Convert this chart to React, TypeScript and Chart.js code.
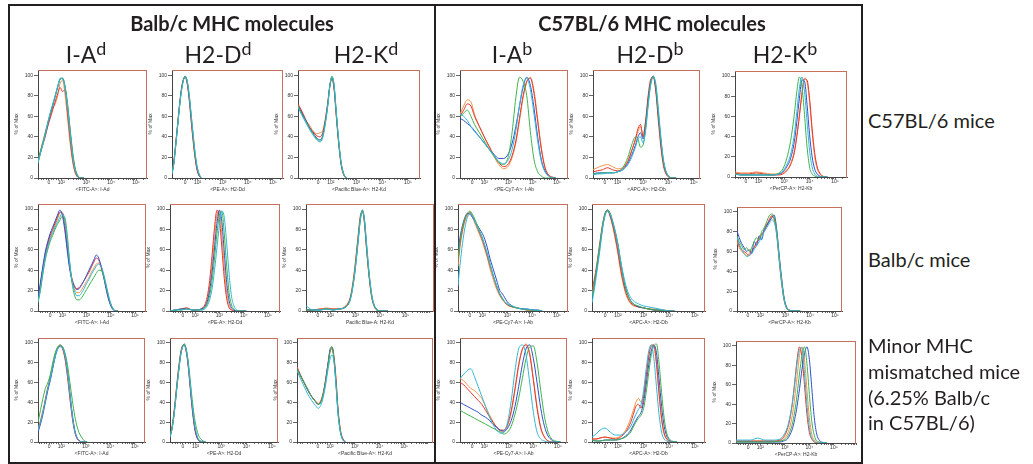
import React, { useEffect, useRef } from "react";
import { Chart, registerables } from "chart.js";
Chart.register(...registerables);

// ---------- axis ticks ----------
const X_TICK_VALUES = [1.5, 2, 3, 4, 5];
const X_TICK_LABELS = ["0", "10²", "10³", "10⁴", "10⁵"];
const X_MINOR_TICKS = [0.7, 0.8, 0.9, 1.1, 1.2, 1.3, 1.4, 1.6, 1.7, 1.8, 1.9, 2.3, 2.48, 2.6, 2.7, 2.78, 2.85, 2.9, 2.95, 3.3, 3.48, 3.6, 3.7, 3.78, 3.85, 3.9, 3.95, 4.3, 4.48, 4.6, 4.7, 4.78, 4.85, 4.9, 4.95, 5.3, 5.48, 5.6, 5.7, 5.78, 5.85, 5.9, 5.95];
const Y_TICKS = [0, 20, 40, 60, 80, 100];
const Y_TITLE = "% of Max";

// ---------- text ----------
const GROUP_TITLES = ["Balb/c MHC molecules", "C57BL/6 MHC molecules"];
const MOLECULES = [["I-A", "d"], ["H2-D", "d"], ["H2-K", "d"], ["I-A", "b"], ["H2-D", "b"], ["H2-K", "b"]];
const ROW_LABELS = [["C57BL/6 mice"], ["Balb/c mice"], ["Minor MHC", "mismatched mice", "(6.25% Balb/c", "in C57BL/6)"]];
const AXIS_LABELS_ROW1 = ["<FITC-A>: I-Ad", "<PE-A>: H2-Dd", "<Pacific Blue-A>: H2-Kd", "<PE-Cy7-A>: I-Ab", "<APC-A>: H2-Db", "<PerCP-A>: H2-Kb"];
const AXIS_LABELS_ROW2 = ["<FITC-A>: I-Ad", "<PE-A>: H2-Dd", "Pacific Blue-A: H2-Kd", "<PE-Cy7-A>: I-Ab", "<APC-A>: H2-Db", "<PerCP-A>: H2-Kb"];
const AXIS_LABELS_ROW3 = ["<FITC-A>: I-Ad", "<PE-A>: H2-Dd", "<Pacific Blue-A>: H2-Kd", "<PE-Cy7-A>: I-Ab", "<APC-A>: H2-Db", "<PerCP-A>: H2-Kb"];

// ---------- data: row 1 (C57BL/6 mice) ----------
const R1C1_X = [1.06, 1.15, 1.25, 1.35, 1.45, 1.55, 1.65, 1.75, 1.85, 1.95, 2.05, 2.15, 2.25, 2.35, 2.45, 2.55, 2.65, 2.75, 2.9];
const R1C1_BLUE = [16, 24, 33, 42, 52, 62, 70, 79, 88, 96, 97, 88, 70, 46, 24, 9, 2, 0, 0];
const R1C1_RED = [15, 24, 32, 40, 50, 58, 66, 74, 82, 88, 84, 86, 62, 38, 18, 6, 1, 0, 0];
const R1C1_ORANGE = [16, 26, 35, 44, 52, 60, 68, 72, 80, 92, 95, 80, 58, 34, 16, 5, 1, 0, 0];
const R1C1_GREEN = [16, 25, 34, 44, 54, 63, 71, 80, 89, 96, 97, 89, 72, 48, 26, 10, 3, 0, 0];
const R1C1_CYAN = [14, 23, 32, 42, 53, 63, 72, 80, 89, 97, 96, 87, 68, 44, 22, 8, 2, 0, 0];

const R1C2_X = [0.98, 1.05, 1.12, 1.2, 1.28, 1.36, 1.44, 1.5, 1.58, 1.66, 1.74, 1.82, 1.9, 1.98, 2.06, 2.14];
const R1C2_BLUE = [4, 14, 30, 50, 70, 86, 96, 99, 94, 80, 60, 40, 22, 9, 3, 0];
const R1C2_RED = [5, 15, 31, 51, 71, 87, 96, 98, 93, 78, 57, 37, 20, 8, 2, 0];
const R1C2_ORANGE = [5, 15, 32, 52, 72, 88, 97, 98, 92, 77, 56, 36, 19, 7, 2, 0];
const R1C2_GREEN = [4, 14, 30, 50, 70, 86, 96, 99, 95, 82, 62, 42, 24, 11, 4, 0];
const R1C2_CYAN = [4, 13, 29, 49, 69, 85, 95, 98, 95, 82, 63, 43, 25, 11, 4, 0];

const R1C3_X = [0.72, 0.85, 1.0, 1.15, 1.3, 1.45, 1.58, 1.68, 1.78, 1.88, 1.96, 2.04, 2.12, 2.2, 2.3, 2.4, 2.5, 2.6];
const R1C3_BLUE = [70, 64, 57, 50, 44, 39, 37, 41, 54, 72, 90, 98, 90, 66, 36, 14, 4, 0];
const R1C3_RED = [72, 66, 58, 50, 45, 41, 40, 44, 56, 73, 89, 97, 88, 64, 35, 13, 3, 0];
const R1C3_ORANGE = [71, 65, 57, 52, 46, 43, 44, 46, 57, 74, 90, 96, 87, 63, 34, 13, 3, 0];
const R1C3_GREEN = [70, 63, 56, 49, 43, 38, 36, 40, 53, 71, 90, 99, 91, 67, 37, 15, 4, 0];
const R1C3_CYAN = [69, 62, 55, 48, 42, 37, 35, 39, 52, 70, 89, 98, 92, 68, 38, 15, 4, 0];

const R1C4_X = [1.0, 1.15, 1.3, 1.45, 1.6, 1.8, 2.0, 2.2, 2.4, 2.6, 2.8, 3.0, 3.15, 3.3, 3.45, 3.6, 3.75, 3.9, 4.05, 4.2, 4.35, 4.5, 4.65, 4.8, 4.95];
const R1C4_BLUE = [58, 56, 53, 50, 46, 40, 34, 28, 23, 19, 19, 24, 34, 50, 70, 88, 98, 90, 68, 40, 18, 7, 2, 0, 0];
const R1C4_RED = [60, 66, 72, 70, 60, 50, 40, 31, 22, 15, 11, 14, 22, 36, 58, 80, 94, 97, 82, 55, 28, 10, 3, 1, 0];
const R1C4_ORANGE = [62, 70, 76, 74, 62, 50, 40, 30, 21, 13, 9, 12, 20, 34, 55, 78, 93, 98, 85, 58, 30, 11, 3, 0, 0];
const R1C4_GREEN = [60, 63, 66, 60, 52, 44, 36, 28, 21, 15, 13, 22, 45, 78, 98, 94, 80, 45, 18, 6, 2, 0, 0, 0, 0];
const R1C4_CYAN = [62, 60, 56, 50, 45, 40, 34, 28, 22, 16, 14, 18, 28, 46, 70, 90, 97, 86, 62, 36, 16, 6, 2, 0, 0];

const R1C5_X = [1.03, 1.2, 1.4, 1.6, 1.8, 2.0, 2.2, 2.4, 2.55, 2.7, 2.8, 2.9, 3.0, 3.1, 3.2, 3.3, 3.4, 3.5, 3.6, 3.7, 3.8, 3.9, 4.0, 4.1, 4.3];
const R1C5_BLUE = [4, 5, 5, 5, 5, 6, 8, 14, 22, 32, 40, 44, 38, 52, 75, 93, 99, 88, 62, 36, 16, 6, 2, 0, 0];
const R1C5_RED = [6, 7, 8, 10, 8, 7, 9, 16, 26, 38, 48, 52, 40, 55, 80, 96, 98, 84, 56, 30, 12, 4, 1, 0, 0];
const R1C5_ORANGE = [8, 10, 12, 13, 11, 9, 10, 17, 27, 37, 45, 50, 42, 56, 78, 94, 99, 86, 60, 33, 14, 5, 1, 0, 0];
const R1C5_GREEN = [4, 4, 5, 5, 5, 6, 10, 20, 32, 40, 38, 30, 32, 48, 72, 92, 99, 90, 64, 38, 17, 6, 2, 0, 0];
const R1C5_CYAN = [3, 4, 4, 5, 5, 6, 8, 13, 20, 30, 38, 40, 34, 46, 70, 90, 98, 92, 68, 40, 18, 7, 2, 0, 0];

const R1C6_X = [1.07, 1.3, 1.6, 1.9, 2.2, 2.5, 2.8, 2.95, 3.1, 3.25, 3.4, 3.5, 3.6, 3.7, 3.8, 3.9, 4.0, 4.1, 4.2, 4.3, 4.4, 4.5, 4.7];
const R1C6_BLUE = [3, 2, 2, 2, 2, 2, 3, 5, 10, 18, 35, 55, 78, 96, 95, 72, 42, 20, 8, 3, 1, 0, 0];
const R1C6_RED = [4, 3, 3, 4, 3, 2, 2, 3, 6, 12, 24, 40, 60, 82, 97, 96, 78, 48, 24, 10, 4, 1, 0];
const R1C6_ORANGE = [5, 4, 4, 5, 4, 3, 3, 4, 7, 13, 26, 42, 62, 84, 98, 94, 74, 44, 20, 8, 3, 1, 0];
const R1C6_GREEN = [3, 2, 2, 2, 2, 2, 4, 8, 18, 35, 62, 85, 99, 90, 62, 30, 10, 3, 1, 0, 0, 0, 0];
const R1C6_CYAN = [3, 2, 2, 2, 2, 2, 3, 6, 12, 22, 42, 65, 88, 99, 85, 55, 26, 10, 3, 1, 0, 0, 0];

// ---------- data: row 2 (Balb/c mice) ----------
const R2C1_X = [1.0, 1.1, 1.2, 1.3, 1.4, 1.5, 1.6, 1.7, 1.8, 1.9, 2.0, 2.1, 2.2, 2.3, 2.4, 2.5, 2.6, 2.7, 2.8, 2.9, 3.0, 3.1, 3.2, 3.3, 3.4, 3.5, 3.6, 3.7, 3.8, 3.9, 4.0, 4.1, 4.2, 4.3];
const R2C1_BLUE = [12, 28, 44, 58, 68, 76, 82, 88, 94, 99, 94, 80, 60, 42, 30, 24, 21, 22, 26, 30, 35, 40, 45, 50, 55, 52, 44, 34, 22, 12, 5, 1, 0, 0];
const R2C1_RED = [11, 26, 42, 56, 66, 74, 80, 86, 92, 97, 96, 84, 64, 44, 32, 25, 22, 23, 26, 30, 34, 38, 43, 48, 52, 50, 44, 35, 24, 13, 6, 2, 0, 0];
const R2C1_ORANGE = [10, 24, 40, 54, 64, 72, 78, 84, 90, 96, 97, 88, 68, 46, 30, 22, 18, 18, 21, 25, 29, 33, 38, 42, 46, 47, 42, 34, 24, 14, 6, 2, 0, 0];
const R2C1_GREEN = [8, 20, 36, 50, 60, 68, 74, 80, 85, 89, 93, 92, 76, 50, 28, 16, 11, 11, 13, 17, 21, 25, 29, 33, 37, 40, 40, 34, 25, 15, 7, 2, 0, 0];
const R2C1_CYAN = [9, 22, 38, 52, 62, 70, 76, 82, 87, 92, 96, 90, 72, 48, 30, 20, 15, 15, 18, 22, 27, 31, 36, 40, 44, 46, 44, 37, 27, 16, 7, 2, 0, 0];

const R2C2_X = [0.97, 1.2, 1.45, 1.65, 1.9, 2.1, 2.25, 2.4, 2.5, 2.6, 2.7, 2.8, 2.9, 3.0, 3.1, 3.2, 3.3, 3.4, 3.5, 3.6, 3.7, 3.8, 3.9, 4.1];
const R2C2_BLUE = [0, 1, 2, 2, 1, 1, 2, 4, 9, 20, 38, 62, 86, 99, 88, 58, 28, 10, 3, 1, 0, 0, 0, 0];
const R2C2_RED = [0, 1, 2, 3, 1, 1, 2, 6, 14, 30, 55, 82, 99, 90, 62, 32, 12, 3, 1, 0, 0, 0, 0, 0];
const R2C2_ORANGE = [0, 1, 2, 3, 1, 1, 2, 5, 11, 24, 45, 72, 94, 98, 75, 44, 18, 6, 1, 0, 0, 0, 0, 0];
const R2C2_GREEN = [0, 1, 1, 2, 1, 1, 1, 3, 7, 15, 30, 52, 76, 94, 98, 76, 44, 18, 6, 2, 0, 0, 0, 0];
const R2C2_CYAN = [0, 1, 1, 2, 1, 1, 1, 2, 5, 11, 22, 40, 62, 84, 98, 92, 66, 36, 14, 5, 1, 0, 0, 0];

const R2C3_X = [1.03, 1.3, 1.6, 1.85, 2.1, 2.35, 2.55, 2.7, 2.8, 2.9, 3.0, 3.1, 3.2, 3.28, 3.36, 3.45, 3.55, 3.65, 3.75, 3.85, 4.0, 4.3];
const R2C3_BLUE = [1, 1, 1, 2, 1, 2, 3, 6, 12, 24, 42, 66, 90, 99, 90, 64, 36, 16, 6, 2, 0, 0];
const R2C3_RED = [1, 1, 2, 2, 2, 2, 3, 7, 13, 26, 46, 70, 92, 98, 88, 60, 34, 14, 5, 1, 0, 0];
const R2C3_ORANGE = [1, 1, 2, 3, 2, 2, 4, 8, 14, 28, 48, 72, 94, 97, 86, 60, 33, 14, 5, 1, 0, 0];
const R2C3_GREEN = [1, 1, 1, 2, 1, 2, 3, 6, 12, 25, 44, 68, 91, 99, 89, 62, 35, 15, 5, 1, 0, 0];
const R2C3_CYAN = [5, 1, 1, 2, 1, 2, 3, 6, 11, 23, 42, 65, 89, 98, 91, 66, 38, 17, 6, 2, 0, 0];

const R2C4_X = [1.02, 1.1, 1.2, 1.3, 1.4, 1.5, 1.6, 1.7, 1.8, 1.9, 2.0, 2.1, 2.2, 2.3, 2.4, 2.5, 2.6, 2.7, 2.8, 2.9, 3.0, 3.2, 3.4, 3.6, 3.8, 4.0, 4.2, 4.4];
const R2C4_BLUE = [58, 72, 84, 92, 96, 95, 92, 88, 84, 80, 76, 70, 62, 52, 44, 36, 28, 20, 17, 13, 9, 5, 3, 2, 2, 1, 1, 0];
const R2C4_RED = [48, 66, 80, 90, 95, 97, 93, 88, 82, 76, 70, 62, 54, 45, 37, 29, 22, 16, 12, 9, 6, 4, 3, 2, 1, 1, 0, 0];
const R2C4_ORANGE = [44, 62, 78, 88, 94, 96, 92, 86, 80, 74, 68, 60, 52, 42, 34, 26, 20, 15, 11, 8, 6, 4, 3, 2, 1, 1, 0, 0];
const R2C4_GREEN = [50, 68, 82, 91, 96, 98, 95, 90, 84, 78, 72, 64, 56, 47, 38, 30, 23, 17, 13, 9, 7, 4, 3, 2, 1, 1, 0, 0];
const R2C4_CYAN = [25, 45, 66, 82, 92, 96, 93, 88, 82, 77, 71, 64, 56, 47, 38, 30, 23, 17, 12, 9, 7, 5, 3, 2, 2, 1, 1, 0];

const R2C5_X = [0.99, 1.1, 1.2, 1.3, 1.4, 1.5, 1.6, 1.7, 1.8, 1.9, 2.0, 2.1, 2.2, 2.3, 2.4, 2.5, 2.6, 2.8, 3.0, 3.2, 3.4, 3.6, 3.8, 4.0, 4.2];
const R2C5_BLUE = [12, 28, 45, 64, 82, 95, 99, 94, 86, 76, 64, 48, 34, 22, 15, 10, 7, 4, 3, 2, 1, 1, 0, 0, 0];
const R2C5_RED = [20, 34, 50, 68, 85, 96, 99, 93, 84, 72, 58, 42, 29, 19, 12, 8, 6, 4, 3, 2, 1, 0, 0, 0, 0];
const R2C5_ORANGE = [16, 30, 46, 64, 82, 94, 98, 92, 82, 70, 56, 40, 27, 17, 11, 7, 5, 4, 3, 2, 2, 1, 1, 0, 0];
const R2C5_GREEN = [14, 30, 48, 66, 84, 96, 99, 96, 88, 78, 66, 50, 35, 23, 15, 10, 7, 5, 3, 2, 1, 1, 0, 0, 0];
const R2C5_CYAN = [8, 24, 42, 60, 80, 94, 98, 95, 87, 77, 65, 50, 37, 26, 18, 13, 10, 7, 5, 4, 3, 2, 1, 0, 0];

const R2C6_X = [1.06, 1.15, 1.25, 1.35, 1.45, 1.55, 1.65, 1.75, 1.85, 1.95, 2.05, 2.15, 2.25, 2.35, 2.45, 2.55, 2.65, 2.75, 2.85, 2.95, 3.05, 3.15, 3.3, 3.6];
const R2C6_BLUE = [81, 74, 68, 64, 60, 62, 58, 70, 66, 76, 72, 82, 86, 90, 94, 97, 84, 58, 34, 14, 4, 1, 0, 0];
const R2C6_RED = [72, 66, 62, 60, 58, 56, 60, 64, 70, 72, 78, 80, 86, 92, 96, 94, 80, 54, 30, 12, 3, 1, 0, 0];
const R2C6_ORANGE = [70, 64, 60, 58, 56, 58, 62, 64, 68, 74, 76, 82, 88, 90, 96, 92, 78, 52, 28, 11, 3, 0, 0, 0];
const R2C6_GREEN = [76, 70, 66, 62, 64, 60, 64, 70, 74, 72, 80, 84, 90, 96, 98, 95, 82, 56, 32, 13, 4, 1, 0, 0];
const R2C6_CYAN = [74, 68, 62, 58, 55, 56, 58, 62, 66, 70, 74, 80, 84, 88, 92, 90, 78, 54, 30, 12, 3, 1, 0, 0];

// ---------- data: row 3 (minor MHC mismatched mice) ----------
const R3C1_X = [1.05, 1.15, 1.25, 1.35, 1.45, 1.55, 1.65, 1.75, 1.85, 1.95, 2.05, 2.15, 2.25, 2.35, 2.45, 2.55, 2.65, 2.75, 2.85, 2.95, 3.05];
const R3C1_BLUE = [10, 18, 28, 40, 52, 62, 74, 86, 94, 97, 96, 88, 72, 50, 28, 12, 4, 1, 0, 0, 0];
const R3C1_RED = [10, 20, 30, 42, 54, 64, 76, 87, 95, 97, 94, 84, 66, 44, 24, 10, 3, 1, 0, 0, 0];
const R3C1_ORANGE = [12, 22, 32, 44, 56, 66, 78, 88, 95, 98, 95, 85, 68, 46, 25, 10, 3, 1, 0, 0, 0];
const R3C1_GREEN = [20, 32, 44, 54, 60, 68, 80, 90, 96, 98, 96, 90, 78, 60, 42, 26, 15, 8, 4, 1, 0];
const R3C1_CYAN = [12, 20, 30, 42, 54, 64, 75, 86, 94, 96, 95, 87, 70, 48, 26, 11, 4, 1, 0, 0, 0];

const R3C2_X = [0.99, 1.06, 1.13, 1.2, 1.27, 1.34, 1.41, 1.48, 1.55, 1.62, 1.69, 1.76, 1.83, 1.9, 1.97, 2.04, 2.11, 2.2, 2.3, 2.4];
const R3C2_BLUE = [5, 12, 24, 40, 58, 74, 88, 96, 99, 94, 82, 64, 44, 27, 14, 6, 2, 0, 0, 0];
const R3C2_RED = [6, 13, 26, 42, 60, 76, 90, 97, 98, 92, 80, 62, 42, 25, 12, 5, 2, 0, 0, 0];
const R3C2_ORANGE = [6, 14, 27, 44, 62, 78, 90, 97, 98, 93, 82, 64, 45, 28, 14, 6, 2, 1, 0, 0];
const R3C2_GREEN = [5, 12, 24, 40, 58, 74, 88, 96, 99, 95, 85, 69, 51, 35, 22, 13, 7, 3, 1, 0];
const R3C2_CYAN = [5, 12, 23, 39, 57, 73, 87, 95, 98, 94, 83, 66, 47, 30, 16, 8, 3, 1, 0, 0];

const R3C3_X = [0.66, 0.8, 0.95, 1.1, 1.25, 1.4, 1.52, 1.62, 1.72, 1.82, 1.92, 2.0, 2.08, 2.16, 2.24, 2.32, 2.42, 2.52, 2.62];
const R3C3_BLUE = [74, 67, 60, 52, 46, 41, 38, 40, 48, 62, 80, 94, 96, 82, 58, 30, 10, 2, 0];
const R3C3_RED = [76, 68, 60, 53, 46, 41, 38, 41, 49, 63, 80, 92, 94, 84, 62, 32, 11, 3, 0];
const R3C3_ORANGE = [73, 66, 59, 52, 46, 42, 39, 42, 50, 64, 80, 92, 95, 86, 64, 34, 12, 3, 0];
const R3C3_GREEN = [74, 67, 60, 53, 46, 41, 38, 40, 48, 61, 78, 92, 96, 83, 58, 30, 10, 2, 0];
const R3C3_CYAN = [72, 64, 56, 48, 42, 37, 34, 37, 45, 58, 74, 84, 88, 80, 56, 28, 9, 2, 0];

const R3C4_X = [1.01, 1.15, 1.3, 1.45, 1.6, 1.75, 1.9, 2.05, 2.2, 2.35, 2.5, 2.65, 2.8, 2.95, 3.1, 3.25, 3.4, 3.55, 3.7, 3.85, 4.0, 4.15, 4.3, 4.45, 4.6, 4.75, 4.9, 5.1];
const R3C4_BLUE = [40, 38, 36, 34, 32, 30, 27, 25, 22, 18, 15, 12, 11, 14, 22, 36, 56, 78, 94, 98, 84, 60, 34, 16, 6, 2, 0, 0];
const R3C4_RED = [60, 58, 54, 50, 46, 42, 38, 32, 26, 20, 15, 12, 12, 18, 32, 54, 78, 94, 98, 88, 62, 34, 14, 5, 1, 0, 0, 0];
const R3C4_ORANGE = [64, 62, 58, 54, 52, 48, 44, 36, 28, 21, 15, 11, 10, 16, 30, 52, 76, 93, 99, 90, 64, 36, 15, 5, 1, 0, 0, 0];
const R3C4_GREEN = [32, 30, 28, 26, 24, 22, 20, 18, 16, 14, 12, 10, 8, 10, 16, 28, 44, 64, 84, 96, 97, 80, 52, 26, 10, 3, 1, 0];
const R3C4_CYAN = [64, 68, 72, 74, 66, 56, 46, 36, 26, 18, 12, 9, 10, 20, 42, 72, 94, 98, 88, 60, 30, 10, 3, 1, 0, 0, 0, 0];

const R3C5_X = [0.99, 1.15, 1.3, 1.5, 1.7, 1.9, 2.1, 2.3, 2.5, 2.6, 2.7, 2.8, 2.9, 3.0, 3.1, 3.2, 3.3, 3.4, 3.5, 3.6, 3.7, 3.8, 3.9, 4.0, 4.1, 4.3];
const R3C5_BLUE = [2, 1, 1, 2, 2, 2, 3, 6, 12, 17, 22, 26, 30, 40, 58, 78, 92, 98, 90, 64, 36, 16, 6, 2, 0, 0];
const R3C5_RED = [3, 3, 4, 5, 4, 3, 5, 10, 20, 28, 36, 38, 34, 46, 66, 86, 97, 98, 80, 50, 24, 9, 3, 1, 0, 0];
const R3C5_ORANGE = [3, 3, 4, 5, 4, 4, 6, 12, 24, 32, 40, 44, 40, 48, 68, 88, 98, 96, 78, 48, 22, 8, 3, 1, 0, 0];
const R3C5_GREEN = [2, 1, 1, 2, 2, 2, 3, 5, 10, 15, 20, 24, 27, 34, 50, 70, 88, 97, 99, 80, 50, 24, 9, 3, 1, 0];
const R3C5_CYAN = [5, 8, 12, 14, 10, 7, 7, 10, 16, 22, 28, 33, 38, 52, 74, 92, 98, 84, 56, 28, 10, 3, 1, 0, 0, 0];

const R3C6_X = [1.01, 1.3, 1.6, 1.9, 2.2, 2.5, 2.8, 2.95, 3.1, 3.2, 3.3, 3.4, 3.5, 3.6, 3.7, 3.8, 3.9, 4.0, 4.1, 4.2, 4.3, 4.4, 4.5, 4.7];
const R3C6_BLUE = [1, 1, 1, 1, 1, 1, 1, 2, 4, 8, 14, 24, 38, 56, 76, 92, 99, 86, 56, 26, 9, 3, 1, 0];
const R3C6_RED = [2, 2, 2, 2, 2, 2, 3, 6, 14, 24, 40, 62, 86, 99, 88, 60, 30, 11, 4, 1, 0, 0, 0, 0];
const R3C6_ORANGE = [2, 2, 2, 2, 2, 2, 2, 4, 9, 16, 28, 46, 68, 90, 99, 86, 55, 26, 9, 3, 1, 0, 0, 0];
const R3C6_GREEN = [1, 1, 1, 1, 1, 1, 2, 3, 6, 11, 19, 32, 50, 72, 90, 99, 82, 50, 22, 8, 2, 1, 0, 0];
const R3C6_CYAN = [3, 3, 3, 5, 3, 3, 4, 8, 16, 26, 40, 60, 82, 96, 98, 72, 40, 16, 5, 2, 0, 0, 0, 0];

// ---------- styling ----------
const COLORS = { blue: "#2f4fcf", red: "#e5352b", orange: "#f39249", green: "#3db34c", cyan: "#33b6d6" };
const AXIS_FONT = "'Liberation Sans', Arial, sans-serif";
const TEXT_FONT = "Lato, 'Open Sans', sans-serif";
const FRAME_COLOR = "#c8705e";
const Y_MAX = 105;
const Y_W = 24;
const X_H = 15;
const PAD = { l: 2, r: 8, t: 3, b: 2 };

type Rect = { l: number; t: number; r: number; b: number };
type PanelSpec = {
  rect: Rect; xMin: number; xMax: number; label: string;
  xs: number[]; series: { color: string; values: number[] }[];
};

function mk(rect: Rect, xMin: number, xMax: number, label: string, xs: number[],
  blue: number[], red: number[], orange: number[], green: number[], cyan: number[]): PanelSpec {
  return {
    rect, xMin, xMax, label, xs,
    series: [
      { color: COLORS.cyan, values: cyan },
      { color: COLORS.green, values: green },
      { color: COLORS.blue, values: blue },
      { color: COLORS.red, values: red },
      { color: COLORS.orange, values: orange },
    ],
  };
}

const PANELS: PanelSpec[] = [
  mk({ l: 38, t: 70, r: 147, b: 179 }, 1.06, 5.44, AXIS_LABELS_ROW1[0], R1C1_X, R1C1_BLUE, R1C1_RED, R1C1_ORANGE, R1C1_GREEN, R1C1_CYAN),
  mk({ l: 172, t: 70, r: 283, b: 179 }, 0.98, 5.4, AXIS_LABELS_ROW1[1], R1C2_X, R1C2_BLUE, R1C2_RED, R1C2_ORANGE, R1C2_GREEN, R1C2_CYAN),
  mk({ l: 298, t: 70, r: 420, b: 179 }, 0.72, 5.47, AXIS_LABELS_ROW1[2], R1C3_X, R1C3_BLUE, R1C3_RED, R1C3_ORANGE, R1C3_GREEN, R1C3_CYAN),
  mk({ l: 460, t: 70, r: 568, b: 179 }, 1.0, 5.45, AXIS_LABELS_ROW1[3], R1C4_X, R1C4_BLUE, R1C4_RED, R1C4_ORANGE, R1C4_GREEN, R1C4_CYAN),
  mk({ l: 593, t: 70, r: 700, b: 179 }, 1.03, 5.24, AXIS_LABELS_ROW1[4], R1C5_X, R1C5_BLUE, R1C5_RED, R1C5_ORANGE, R1C5_GREEN, R1C5_CYAN),
  mk({ l: 735, t: 71, r: 847, b: 178 }, 1.07, 5.47, AXIS_LABELS_ROW1[5], R1C6_X, R1C6_BLUE, R1C6_RED, R1C6_ORANGE, R1C6_GREEN, R1C6_CYAN),
  mk({ l: 38, t: 204, r: 146, b: 312 }, 1.0, 5.45, AXIS_LABELS_ROW2[0], R2C1_X, R2C1_BLUE, R2C1_RED, R2C1_ORANGE, R2C1_GREEN, R2C1_CYAN),
  mk({ l: 170, t: 204, r: 280, b: 312 }, 0.97, 5.49, AXIS_LABELS_ROW2[1], R2C2_X, R2C2_BLUE, R2C2_RED, R2C2_ORANGE, R2C2_GREEN, R2C2_CYAN),
  mk({ l: 306, t: 204, r: 434, b: 312 }, 1.03, 6.14, AXIS_LABELS_ROW2[2], R2C3_X, R2C3_BLUE, R2C3_RED, R2C3_ORANGE, R2C3_GREEN, R2C3_CYAN),
  mk({ l: 458, t: 204, r: 568, b: 312 }, 1.02, 5.44, AXIS_LABELS_ROW2[3], R2C4_X, R2C4_BLUE, R2C4_RED, R2C4_ORANGE, R2C4_GREEN, R2C4_CYAN),
  mk({ l: 592, t: 204, r: 705, b: 312 }, 0.99, 5.39, AXIS_LABELS_ROW2[4], R2C5_X, R2C5_BLUE, R2C5_RED, R2C5_ORANGE, R2C5_GREEN, R2C5_CYAN),
  mk({ l: 737, t: 207, r: 842, b: 312 }, 1.06, 5.28, AXIS_LABELS_ROW2[5], R2C6_X, R2C6_BLUE, R2C6_RED, R2C6_ORANGE, R2C6_GREEN, R2C6_CYAN),
  mk({ l: 38, t: 338, r: 145, b: 443 }, 1.05, 5.41, AXIS_LABELS_ROW3[0], R3C1_X, R3C1_BLUE, R3C1_RED, R3C1_ORANGE, R3C1_GREEN, R3C1_CYAN),
  mk({ l: 170, t: 338, r: 278, b: 443 }, 0.99, 5.24, AXIS_LABELS_ROW3[1], R3C2_X, R3C2_BLUE, R3C2_RED, R3C2_ORANGE, R3C2_GREEN, R3C2_CYAN),
  mk({ l: 297, t: 338, r: 433, b: 443 }, 0.66, 6.16, AXIS_LABELS_ROW3[2], R3C3_X, R3C3_BLUE, R3C3_RED, R3C3_ORANGE, R3C3_GREEN, R3C3_CYAN),
  mk({ l: 460, t: 338, r: 567, b: 443 }, 1.01, 5.37, AXIS_LABELS_ROW3[3], R3C4_X, R3C4_BLUE, R3C4_RED, R3C4_ORANGE, R3C4_GREEN, R3C4_CYAN),
  mk({ l: 592, t: 338, r: 705, b: 443 }, 0.99, 5.39, AXIS_LABELS_ROW3[4], R3C5_X, R3C5_BLUE, R3C5_RED, R3C5_ORANGE, R3C5_GREEN, R3C5_CYAN),
  mk({ l: 736, t: 341, r: 856, b: 444 }, 1.01, 5.9, AXIS_LABELS_ROW3[5], R3C6_X, R3C6_BLUE, R3C6_RED, R3C6_ORANGE, R3C6_GREEN, R3C6_CYAN),
];

const ALL_X_TICKS = [...X_TICK_VALUES, ...X_MINOR_TICKS].sort((a, b) => a - b);

function Panel({ spec }: { spec: PanelSpec }) {
  const ref = useRef<HTMLCanvasElement | null>(null);
  const { rect, xMin, xMax, xs, series, label } = spec;
  const W = rect.r - rect.l + Y_W + PAD.l + PAD.r;
  const H = rect.b - rect.t + X_H + PAD.t + PAD.b;

  useEffect(() => {
    const canvas = ref.current;
    if (!canvas) return;
    const tickFont = { size: 5, family: AXIS_FONT };
    const chart = new Chart(canvas, {
      type: "line",
      data: {
        datasets: series.map((s) => ({
          data: xs.map((x, i) => ({ x, y: s.values[i] })),
          borderColor: s.color,
          borderWidth: 1,
          pointRadius: 0,
          fill: false,
          cubicInterpolationMode: "monotone" as const,
        })),
      },
      options: {
        animation: false,
        responsive: false,
        events: [],
        layout: { padding: { left: PAD.l, right: PAD.r, top: PAD.t, bottom: PAD.b } },
        plugins: { legend: { display: false }, tooltip: { enabled: false } },
        scales: {
          x: {
            type: "linear",
            min: xMin,
            max: xMax,
            afterBuildTicks: (s: any) => {
              s.ticks = ALL_X_TICKS.filter((v) => v >= xMin && v <= xMax).map((v) => ({ value: v }));
            },
            afterFit: (s: any) => { s.height = X_H; },
            ticks: {
              autoSkip: false, maxRotation: 0, minRotation: 0, padding: 0,
              font: tickFont, color: "#333",
              callback: (v: any) => {
                const i = X_TICK_VALUES.indexOf(v);
                return i >= 0 ? X_TICK_LABELS[i] : "";
              },
            },
            grid: { drawOnChartArea: false, tickLength: 2, color: "#666" },
            border: { color: "#444", width: 1 },
            title: { display: true, text: label, font: tickFont, color: "#333", padding: 0 },
          },
          y: {
            min: 0,
            max: Y_MAX,
            afterBuildTicks: (s: any) => { s.ticks = Y_TICKS.map((v) => ({ value: v })); },
            afterFit: (s: any) => { s.width = Y_W; },
            ticks: { padding: 1, font: tickFont, color: "#333", autoSkip: false },
            grid: { drawOnChartArea: false, tickLength: 4, color: "#666" },
            border: { color: "#444", width: 1 },
            title: { display: true, text: Y_TITLE, font: tickFont, color: "#333", padding: 0 },
          },
        },
      } as any,
    });
    const ca = chart.chartArea;
    canvas.style.left = `${rect.l - Math.round(ca.left)}px`;
    canvas.style.top = `${rect.t - Math.round(ca.top)}px`;
    return () => chart.destroy();
  }, []);

  return (
    <>
      <canvas
        ref={ref}
        width={W}
        height={H}
        style={{ position: "absolute", left: rect.l - PAD.l - Y_W, top: rect.t - PAD.t, width: W, height: H }}
      />
      {/* thin panel frame: top and right edges */}
      <div style={{ position: "absolute", left: rect.l, top: rect.t, width: rect.r - rect.l, height: 1, background: FRAME_COLOR }} />
      <div style={{ position: "absolute", left: rect.r - 1, top: rect.t, width: 1, height: rect.b - rect.t, background: FRAME_COLOR }} />
    </>
  );
}

// text placement (baseline positions); Lato baseline ≈ top + 0.887em with line-height 1
function TextAt({ x, baseline, size, bold, align, children }: any) {
  const top = baseline - 0.887 * size;
  const style: any = {
    position: "absolute", top, fontSize: size, lineHeight: `${size}px`,
    fontFamily: TEXT_FONT, fontWeight: bold ? 700 : 400, whiteSpace: "nowrap", color: "#231f20",
  };
  if (align === "center") { style.left = x; style.transform = "translateX(-50%)"; }
  else { style.left = x; }
  return <div style={style}>{children}</div>;
}

const HEADER_X = [232, 652];
const MOLECULE_X = [86, 218, 366, 512, 650, 785];
const ROW_LABEL_BASELINES = [[128], [267], [353, 379, 405, 430]];

export default function App() {
  return (
    <div style={{ position: "fixed", left: 0, top: 0, width: 1033, height: 464, background: "#fff", overflow: "hidden" }}>
      {PANELS.map((p, i) => <Panel key={i} spec={p} />)}
      <div style={{ position: "absolute", left: 8, top: 4, width: 855, height: 460, border: "2px solid #231f20", boxSizing: "border-box" }} />
      <div style={{ position: "absolute", left: 434, top: 4, width: 2, height: 460, background: "#231f20" }} />
      {GROUP_TITLES.map((t, i) => (
        <TextAt key={t} x={HEADER_X[i]} baseline={31} size={20} bold align="center">{t}</TextAt>
      ))}
      {MOLECULES.map(([base, sup], i) => (
        <TextAt key={i} x={MOLECULE_X[i]} baseline={63} size={23} align="center">
          {base}
          <span style={{ fontSize: "0.78em", position: "relative", top: "-0.42em" }}>{sup}</span>
        </TextAt>
      ))}
      {ROW_LABELS.map((lines, r) =>
        lines.map((line, j) => (
          <TextAt key={`${r}-${j}`} x={868} baseline={ROW_LABEL_BASELINES[r][j]} size={20}>{line}</TextAt>
        ))
      )}
    </div>
  );
}
